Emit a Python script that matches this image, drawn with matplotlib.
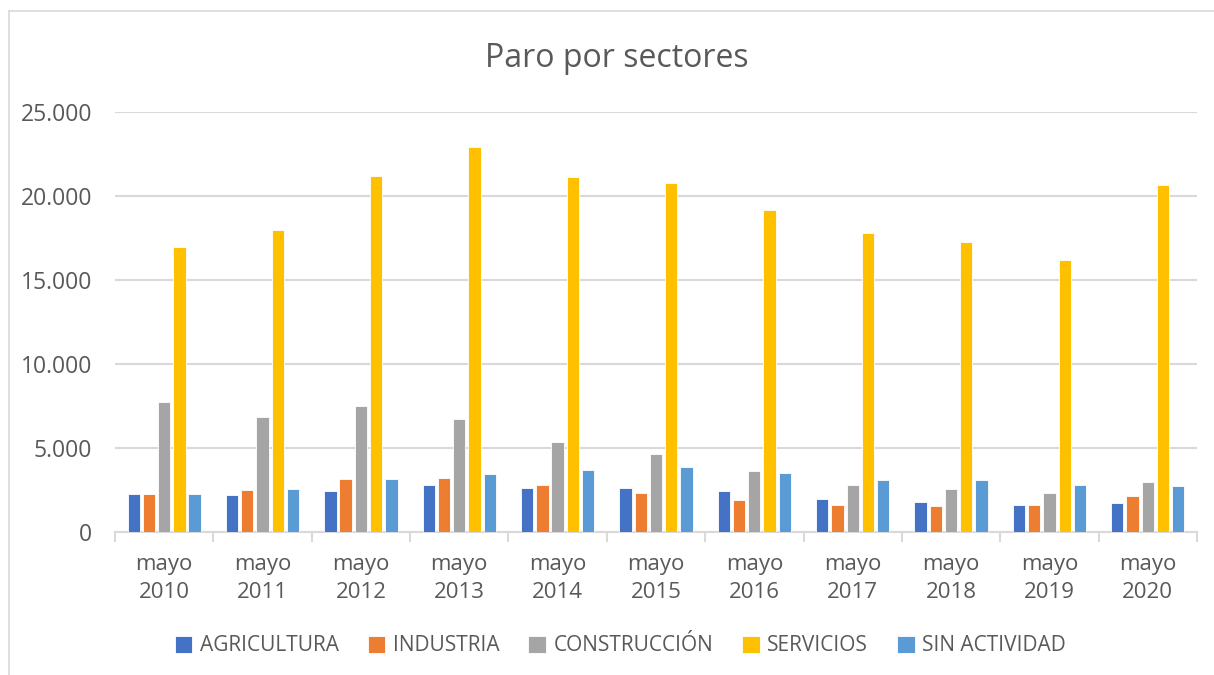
import numpy as np
import matplotlib.pyplot as plt
from matplotlib.lines import Line2D
from matplotlib.ticker import FuncFormatter

years = ["2010", "2011", "2012", "2013", "2014", "2015",
         "2016", "2017", "2018", "2019", "2020"]
categories = ["mayo\n" + y for y in years]

series_names = ["AGRICULTURA", "INDUSTRIA", "CONSTRUCCIÓN", "SERVICIOS", "SIN ACTIVIDAD"]

agricultura = [2240, 2220, 2420, 2780, 2600, 2620, 2420, 1960, 1790, 1590, 1750]
industria = [2280, 2500, 3150, 3210, 2820, 2340, 1900, 1630, 1550, 1610, 2140]
construccion = [7720, 6850, 7520, 6730, 5360, 4620, 3650, 2800, 2580, 2300, 2980]
servicios = [16960, 18000, 21210, 22920, 21130, 20770, 19170, 17800, 17260, 16170, 20650]
sin_actividad = [2280, 2560, 3130, 3450, 3670, 3870, 3510, 3100, 3100, 2800, 2740]

colors = ["#4472C4", "#ED7D31", "#A5A5A5", "#FFC000", "#5B9BD5"]
text_color = "#595959"
grid_color = "#D9D9D9"

plt.rcParams["font.family"] = ["Open Sans", "DejaVu Sans"]

fig = plt.figure(figsize=(12.14, 6.75), dpi=100)
ax = fig.add_axes([0.0947, 0.212, 0.8913, 0.622])

x = np.arange(len(categories))
all_series = [agricultura, industria, construccion, servicios, sin_actividad]
pitch = 0.155
width = 0.125

for i, (name, vals) in enumerate(zip(series_names, all_series)):
    offset = (i - 2) * pitch
    ax.bar(x + offset, vals, width, color=colors[i], label=name,
           edgecolor="white", linewidth=0.6, zorder=3)

ax.set_xlim(-0.5, len(categories) - 0.5)
ax.set_ylim(0, 25000)
ax.set_yticks(np.arange(0, 25001, 5000))
ax.yaxis.set_major_formatter(FuncFormatter(lambda v, p: f"{int(v):,}".replace(",", ".")))
ax.grid(axis="y", color=grid_color, linewidth=1.5, zorder=0)

ax.set_xticks(x)
ax.set_xticklabels(categories, linespacing=1.45)
ax.set_xticks(np.arange(-0.5, len(categories), 1), minor=True)
ax.tick_params(axis="x", which="major", length=0, pad=16, labelsize=16, labelcolor=text_color)
ax.tick_params(axis="x", which="minor", length=7, width=1.5, color=grid_color)
ax.tick_params(axis="y", length=0, pad=16.5, labelsize=16.5, labelcolor=text_color)

for s in ["top", "right", "left"]:
    ax.spines[s].set_visible(False)
ax.spines["bottom"].set_color(grid_color)
ax.spines["bottom"].set_linewidth(1.5)

fig.text(0.508, 0.914, "Paro por sectores", ha="center", va="center",
         fontsize=23, color=text_color)

fig.legend(loc="center", bbox_to_anchor=(0.511, 0.043), ncol=5, frameon=False,
           fontsize=15, labelcolor=text_color, handlelength=0.85, handleheight=0.85,
           handletextpad=0.35, columnspacing=1.4)

# chart border
fig.add_artist(Line2D([9 / 1214, 1], [1 - 11 / 675, 1 - 11 / 675], color=grid_color, linewidth=1.2))
fig.add_artist(Line2D([9 / 1214, 9 / 1214], [0, 1 - 11 / 675], color=grid_color, linewidth=1.2))

fig.savefig("out.png", dpi=100)
